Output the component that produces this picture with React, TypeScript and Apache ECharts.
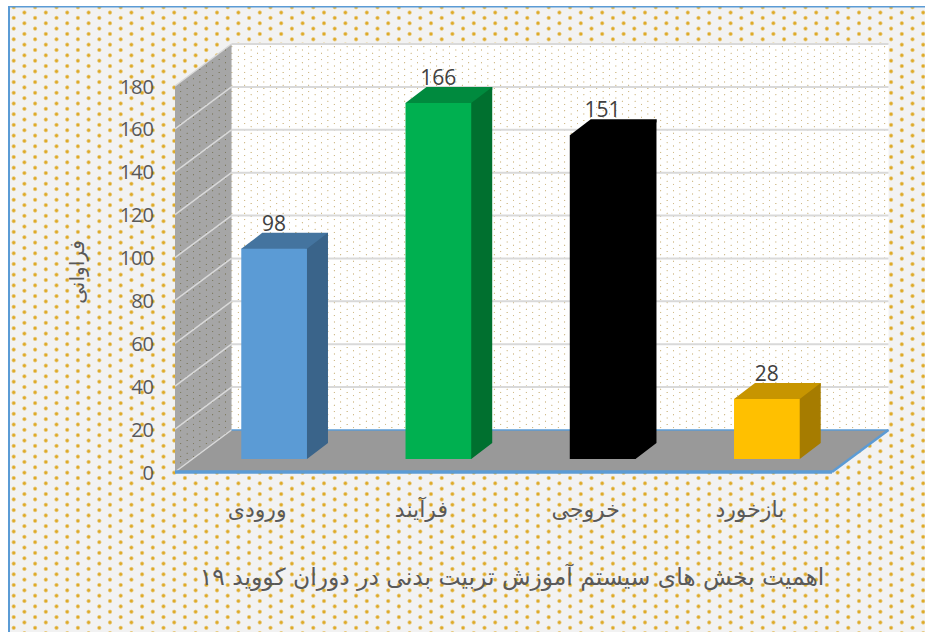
import React, { useEffect, useRef } from "react";
import * as echarts from "echarts";

const categories = ["ورودی", "فرآیند", "خروجی", "بازخورد"];
const values = [98, 166, 151, 28];
const yTicks = [0, 20, 40, 60, 80, 100, 120, 140, 160, 180];
const frontColors = ["#5b9bd5", "#00b050", "#000000", "#ffc000"];
const sideColors = ["#3a648a", "#00702f", "#000000", "#a67c00"];
const topColors = ["#44749f", "#008a3e", "#000000", "#c79500"];
const titleText = "اهمیت بخش های سیستم آموزش تربیت بدنی در دوران کووید ۱۹";
const yName = "فراوانی";

const WALL_DX = 56.5;
const WALL_DY = -42;
const BAR_DX = 17;
const BAR_DY = -13;
const SIDE_DX = 21;
const SIDE_DY = -16;

function dotTile(size: number, pitch: number, bg: string | null, r: number, inner: string, outer: string, ox: number, oy: number) {
  const c = document.createElement("canvas");
  c.width = size;
  c.height = size;
  const g = c.getContext("2d")!;
  if (bg) {
    g.fillStyle = bg;
    g.fillRect(0, 0, size, size);
  }
  const n = Math.round(size / pitch);
  const p = size / n;
  for (let i = -1; i <= n + 1; i++) {
    for (let j = -1; j <= n + 1; j += 1) {
      const x = ox + i * p;
      const y = oy + j * p + (((i % 2) + 2) % 2 ? p / 2 : 0);
      const grad = g.createRadialGradient(x, y, 0, x, y, r);
      grad.addColorStop(0, inner);
      grad.addColorStop(0.35, inner);
      grad.addColorStop(1, outer);
      g.fillStyle = grad;
      g.beginPath();
      g.arc(x, y, r, 0, Math.PI * 2);
      g.fill();
    }
  }
  return c;
}

export default function App() {
  const ref = useRef<HTMLDivElement>(null);
  useEffect(() => {
    const chart = echarts.init(ref.current!, null, { renderer: "svg" });
    const pageTile = dotTile(214, 10.7, "#f2f2f2", 2.6, "rgba(222,170,40,1)", "rgba(222,170,40,0)", 13.7, 7.2);
    const backTile = dotTile(64, 6.4, null, 1, "rgba(190,160,90,0.7)", "rgba(190,160,90,0)", 1.5, 2);
    const sideTile = dotTile(64, 6.4, "#a6a6a6", 1, "rgba(110,105,70,0.7)", "rgba(110,105,70,0)", 1.5, 2);
    const pat = (image: HTMLCanvasElement) => ({
      image,
      repeat: "repeat",
      imageWidth: image.width,
      imageHeight: image.height,
    });

    const option: any = {
      animation: false,
      backgroundColor: "#ffffff",
      textStyle: { fontFamily: "'Open Sans', sans-serif" },
      graphic: [
        {
          type: "rect",
          z: -10,
          silent: true,
          shape: { x: 9, y: 7, width: 916, height: 625 },
          style: { fill: pat(pageTile) },
        },
        { type: "rect", z: -9, silent: true, shape: { x: 8, y: 6, width: 917, height: 1.5 }, style: { fill: "#5b9bd5" } },
        { type: "rect", z: -9, silent: true, shape: { x: 8, y: 6, width: 2, height: 626 }, style: { fill: "#5b9bd5" } },
      ],
      title: {
        text: titleText,
        left: 507,
        top: 560,
        textAlign: "center",
        textStyle: { fontFamily: "'DejaVu Sans'", fontSize: 23.4, fontWeight: "normal", color: "#595959" },
      },
      grid: { left: 175, right: 93, top: 86, bottom: 160 },
      xAxis: {
        type: "category",
        data: categories,
        axisLine: { show: false },
        axisTick: { show: false },
        axisLabel: { margin: 26, fontFamily: "'DejaVu Sans'", fontSize: 22, color: "#595959" },
      },
      yAxis: {
        type: "value",
        min: 0,
        max: 180,
        interval: 20,
        axisLine: { show: false },
        axisTick: { show: false },
        splitLine: { show: false },
        axisLabel: { margin: 21, fontFamily: "'Open Sans'", fontSize: 20, color: "#595959" },
        name: yName,
        nameLocation: "middle",
        nameGap: 88,
        nameRotate: 90,
        nameTextStyle: { fontFamily: "'DejaVu Sans'", fontSize: 20, color: "#595959", padding: [0, 0, 0, 14] },
      },
      series: [
        {
          type: "custom",
          silent: true,
          clip: false,
          z: 1,
          data: [[0, 0]],
          renderItem: (_p: any, api: any) => {
            const band = api.size([1, 0])[0];
            const c0 = api.coord([0, 0]);
            const cTop = api.coord([0, yTicks[yTicks.length - 1]]);
            const l = c0[0] - band / 2;
            const r = l + band * categories.length;
            const b = c0[1];
            const t = cTop[1];
            const poly = (points: number[][], style: any) => ({ type: "polygon", shape: { points }, style });
            return {
              type: "group",
              children: [
                {
                  type: "rect",
                  shape: { x: l + WALL_DX, y: t + WALL_DY, width: r - l, height: b - t },
                  style: { fill: "#ffffff" },
                },
                {
                  type: "rect",
                  shape: { x: l + WALL_DX, y: t + WALL_DY, width: r - l, height: b - t },
                  style: { fill: pat(backTile) },
                },
                poly(
                  [[l, b], [l + WALL_DX, b + WALL_DY], [l + WALL_DX, t + WALL_DY], [l, t]],
                  { fill: pat(sideTile) }
                ),
                poly(
                  [[l, b], [r, b], [r + WALL_DX, b + WALL_DY], [l + WALL_DX, b + WALL_DY]],
                  { fill: "#999999" }
                ),
              ],
            };
          },
        },
        {
          type: "custom",
          silent: true,
          clip: false,
          z: 2,
          data: yTicks.map((v) => [0, v]),
          renderItem: (_p: any, api: any) => {
            const band = api.size([1, 0])[0];
            const c = api.coord([0, api.value(1)]);
            const l = c[0] - band / 2;
            const r = l + band * categories.length;
            const y = c[1];
            const isZero = api.value(1) === 0;
            const line = (x1: number, y1: number, x2: number, y2: number, stroke: string, lineWidth: number) => ({
              type: "line",
              shape: { x1, y1, x2, y2 },
              style: { stroke, lineWidth },
            });
            if (isZero) {
              return {
                type: "group",
                children: [
                  line(l, y, l + WALL_DX, y + WALL_DY, "#d9d9d9", 1.5),
                  line(l + WALL_DX, y + WALL_DY, r + WALL_DX, y + WALL_DY, "#5b9bd5", 1.5),
                  line(r, y, r + WALL_DX, y + WALL_DY, "#5b9bd5", 2.5),
                  line(l, y, r, y, "#5b9bd5", 3.5),
                ],
              };
            }
            return {
              type: "group",
              children: [
                line(l, y, l + WALL_DX, y + WALL_DY, "#d9d9d9", 1.5),
                line(l + WALL_DX, y + WALL_DY, r + WALL_DX, y + WALL_DY, "#d9d9d9", 2),
              ],
            };
          },
        },
        {
          type: "custom",
          silent: true,
          clip: false,
          z: 3,
          data: values.map((v, i) => [i, v]),
          renderItem: (p: any, api: any) => {
            const i = p.dataIndex;
            const v = api.value(1);
            const band = api.size([1, 0])[0];
            const w = band * 0.4;
            const base = api.coord([i, 0]);
            const top = api.coord([i, v]);
            const x0 = base[0] + BAR_DX - w / 2;
            const x1 = x0 + w;
            const yb = base[1] + BAR_DY;
            const yt = top[1] + BAR_DY;
            return {
              type: "group",
              children: [
                {
                  type: "polygon",
                  shape: {
                    points: [
                      [x0 + 2, yt + 2],
                      [x0, yt],
                      [x0 + SIDE_DX, yt + SIDE_DY],
                      [x1 + SIDE_DX, yt + SIDE_DY],
                      [x1 + SIDE_DX, yt + SIDE_DY + 3],
                      [x1, yt + 3],
                    ],
                  },
                  style: { fill: topColors[i] },
                },
                {
                  type: "polygon",
                  shape: {
                    points: [
                      [x1 - 2, yb],
                      [x1, yb],
                      [x1 + SIDE_DX, yb + SIDE_DY],
                      [x1 + SIDE_DX, yt + SIDE_DY],
                      [x1, yt],
                      [x1 - 2, yt],
                    ],
                  },
                  style: { fill: sideColors[i] },
                },
                { type: "rect", shape: { x: x0, y: yt, width: w, height: yb - yt }, style: { fill: frontColors[i] } },
                {
                  type: "text",
                  style: {
                    text: String(v),
                    x: x0 + w / 2,
                    y: yt - 26,
                    align: "center",
                    verticalAlign: "middle",
                    font: "21px 'Open Sans'",
                    fill: "#404040",
                  },
                },
              ],
            };
          },
        },
      ],
    };
    chart.setOption(option);
    return () => chart.dispose();
  }, []);
  return <div ref={ref} style={{ position: "fixed", left: 0, top: 0, width: 925, height: 632 }} />;
}
